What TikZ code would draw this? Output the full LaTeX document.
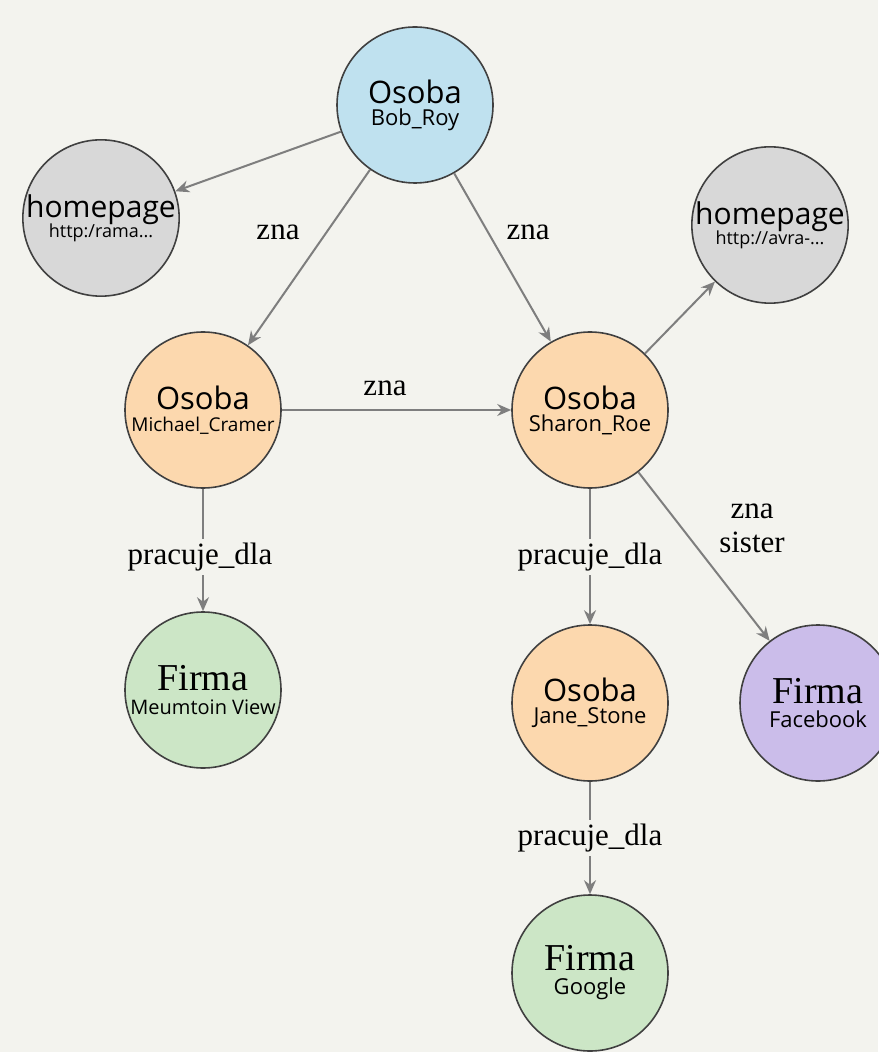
\documentclass[tikz,border=0pt]{standalone}
\usepackage{fontspec}
\setmainfont{Liberation Serif}
\setsansfont{Open Sans}
\usetikzlibrary{arrows.meta}

\definecolor{bgpaper}{HTML}{F3F3EE}
\definecolor{bobblue}{HTML}{BFE1EF}
\definecolor{pagegrey}{HTML}{D8D8D8}
\definecolor{osobaorange}{HTML}{FCD8AE}
\definecolor{firmagreen}{HTML}{CCE6C6}
\definecolor{firmapurple}{HTML}{CBBDEA}
\definecolor{edgegrey}{HTML}{7E7E7E}

\begin{document}
\begin{tikzpicture}[x=0.5pt, y=-0.5pt,
    every node/.style={align=center},
    ent/.style={circle, draw=black!75, line width=0.8pt, minimum size=78pt, inner sep=0pt, font=\sffamily},
    rel/.style={-{Stealth[length=7pt, width=6pt]}, draw=edgegrey, line width=1pt},
    lbl/.style={font=\fontsize{15.5}{16}\selectfont, fill=bgpaper, inner sep=2pt}]
    \fill[bgpaper] (0,0) rectangle (878,1052);
    \useasboundingbox (0,0) rectangle (878,1052);

    \node[ent, fill=bobblue] (B) at (415,105) {{\fontsize{15.5}{18}\selectfont Osoba}\\[-1pt]{\fontsize{11}{12}\selectfont Bob\_Roy}};
    \node[ent, fill=pagegrey] (H1) at (101,218) {{\fontsize{15}{18}\selectfont homepage}\\[-2pt]{\fontsize{9}{10}\selectfont http:/rama...}};
    \node[ent, fill=pagegrey] (H2) at (770,225) {{\fontsize{15}{18}\selectfont homepage}\\[-2pt]{\fontsize{9}{10}\selectfont http://avra-...}};
    \node[ent, fill=osobaorange] (M) at (203,410) {{\fontsize{15.5}{18}\selectfont Osoba}\\[-1pt]{\fontsize{9.5}{10}\selectfont Michael\_Cramer}};
    \node[ent, fill=osobaorange] (S) at (590,410) {{\fontsize{15.5}{18}\selectfont Osoba}\\[-1pt]{\fontsize{11}{12}\selectfont Sharon\_Roe}};
    \node[ent, fill=firmagreen] (F1) at (203,690) {{\rmfamily\fontsize{19}{20}\selectfont Firma}\\[0pt]{\fontsize{10}{10}\selectfont Meumtoin View}};
    \node[ent, fill=osobaorange] (J) at (590,703) {{\fontsize{15.5}{18}\selectfont Osoba}\\[-1pt]{\fontsize{11}{12}\selectfont Jane\_Stone}};
    \node[ent, fill=firmapurple] (F2) at (818,703) {{\rmfamily\fontsize{19}{20}\selectfont Firma}\\[0pt]{\fontsize{11}{12}\selectfont Facebook}};
    \node[ent, fill=firmagreen] (G) at (590,973) {{\rmfamily\fontsize{19}{20}\selectfont Firma}\\[0pt]{\fontsize{11}{12}\selectfont Google}};

    \draw[rel] (B) -- (H1);
    \draw[rel] (B) -- (M);
    \draw[rel] (B) -- (S);
    \draw[rel] (M) -- (S);
    \draw[rel] (S) -- (H2);
    \draw[rel] (S) -- (F2);
    \draw[rel] (M) -- (F1);
    \draw[rel] (S) -- (J);
    \draw[rel] (J) -- (G);

    \node[lbl, fill=none] (l1) at (278,232) {zna};
    \node[lbl, fill=none] (l2) at (528,232) {zna};
    \node[lbl, fill=none] (l3) at (385,388) {zna};
    \node[lbl, fill=none, font=\fontsize{15.5}{17}\selectfont] (l4) at (752,528) {zna\\sister};
    \node[lbl] (l5) at (200,557) {pracuje\_dla};
    \node[lbl] (l6) at (590,557) {pracuje\_dla};
    \node[lbl] (l7) at (590,838) {pracuje\_dla};
\end{tikzpicture}
\end{document}
